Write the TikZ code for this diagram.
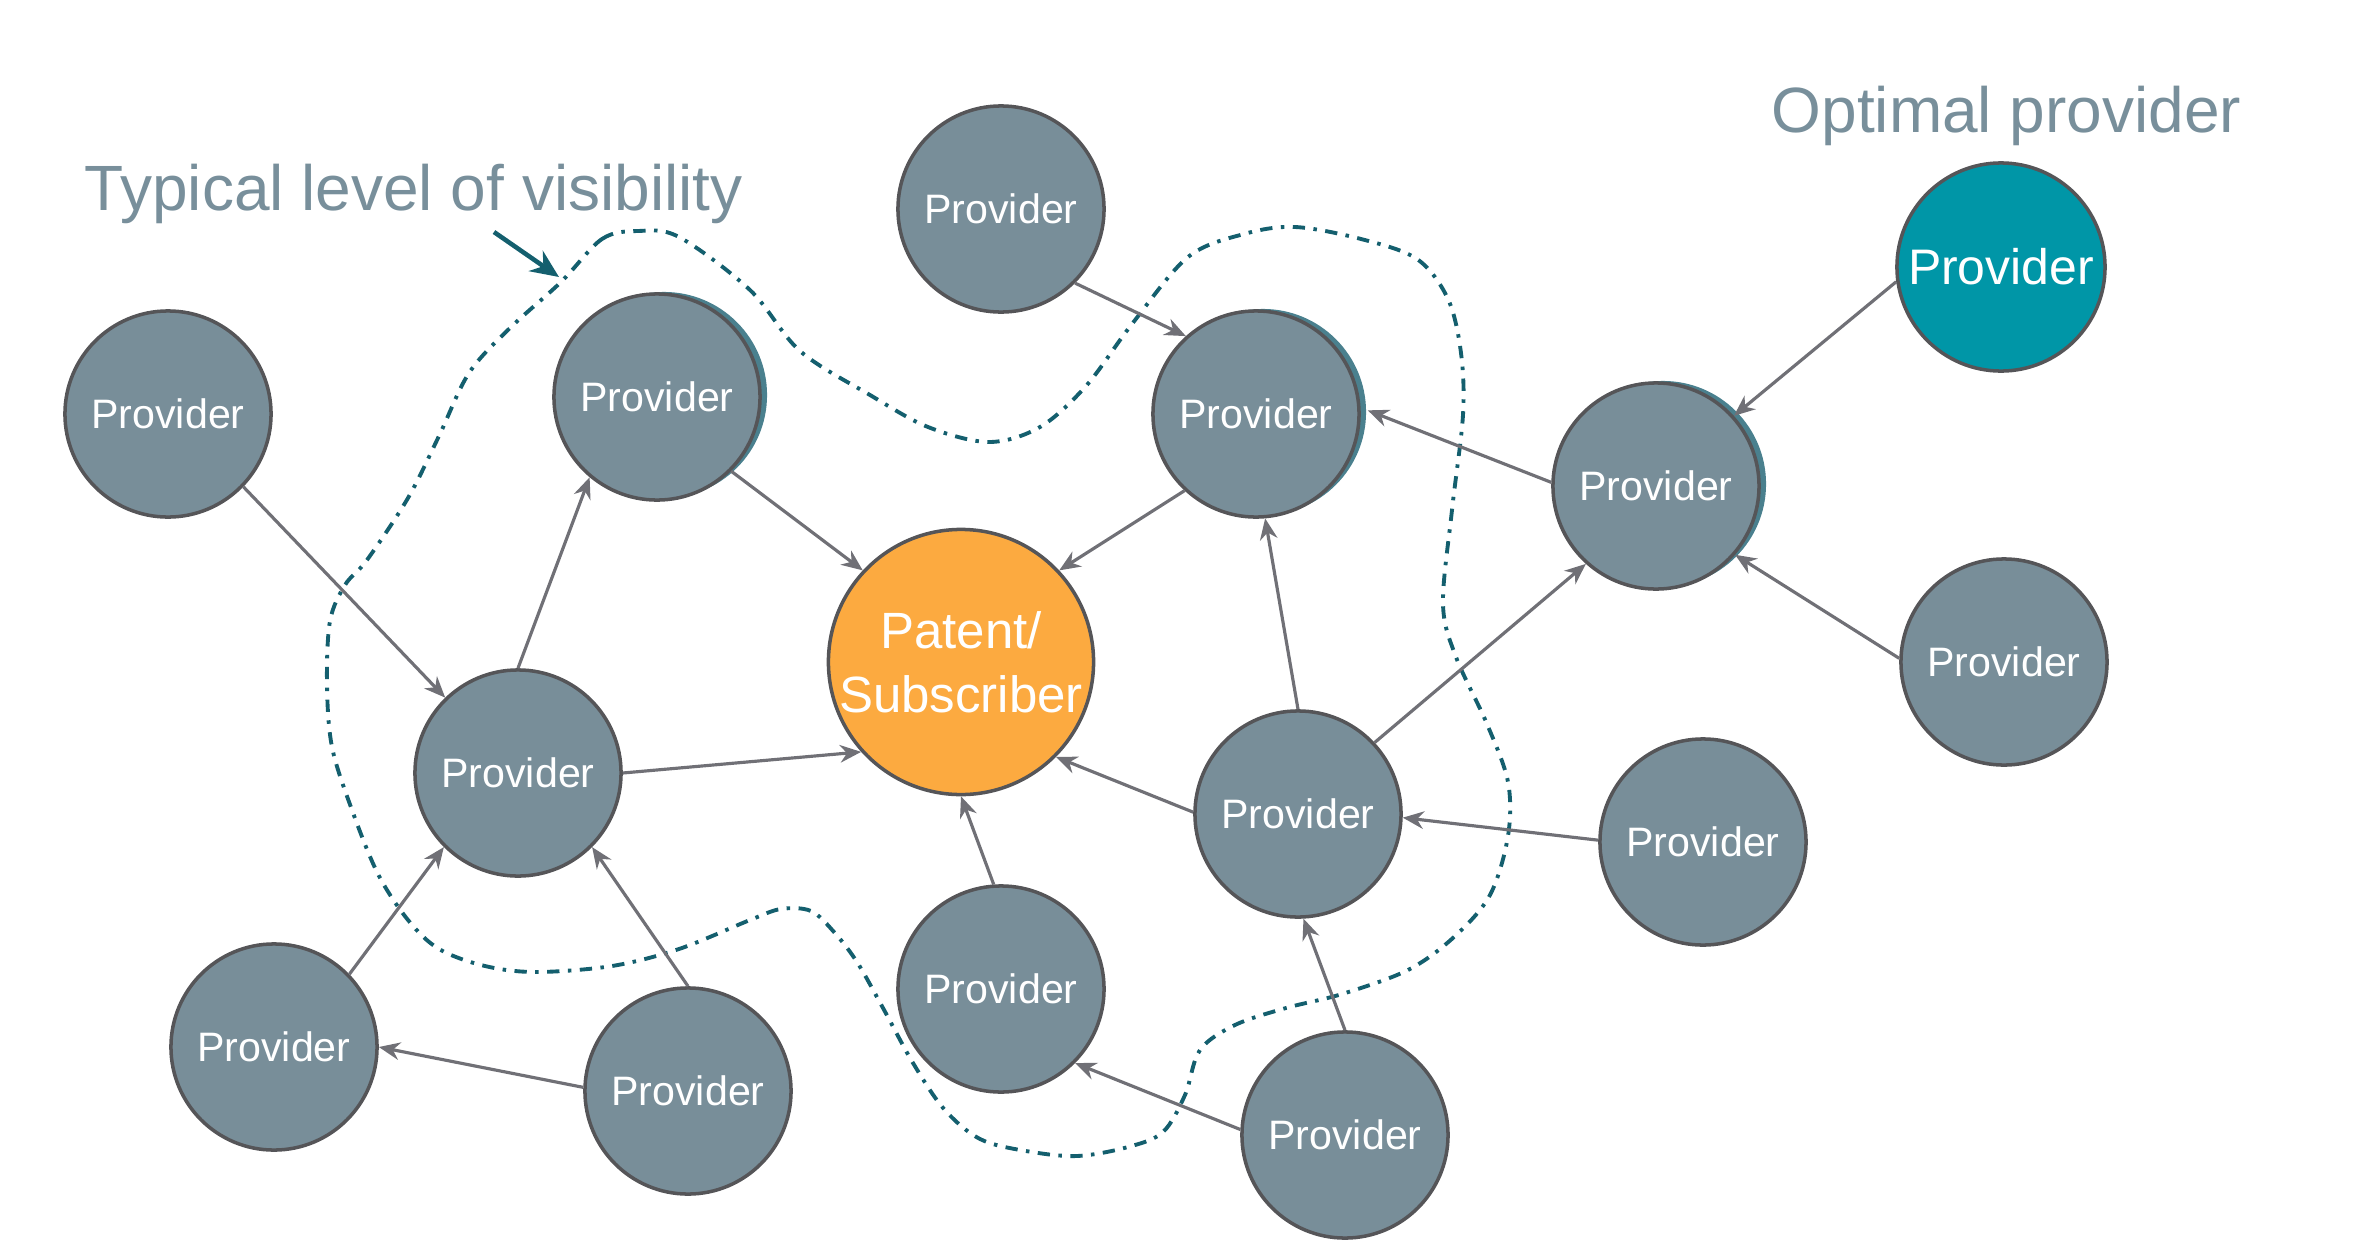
\documentclass[tikz,border=0pt]{standalone}
\usepackage{fontspec}
\setmainfont{Liberation Sans}
\usetikzlibrary{arrows.meta,shadows}

\definecolor{provgray}{RGB}{120,142,153}
\definecolor{rimgray}{RGB}{85,85,88}
\definecolor{optteal}{RGB}{0,150,167}
\definecolor{patorange}{RGB}{252,170,64}
\definecolor{linkgray}{RGB}{112,112,118}
\definecolor{zoneteal}{RGB}{20,95,110}
\definecolor{labelgray}{RGB}{120,143,155}
\definecolor{shadowteal}{RGB}{74,128,142}

\begin{document}
\begin{tikzpicture}[x=0.01cm, y=-0.01cm,
	provider/.style={circle, fill=provgray, draw=rimgray, line width=1pt, minimum size=2.06cm, inner sep=0pt, text=white, font=\fontsize{11.7}{14}\selectfont},
	shadowed/.style={drop shadow={shadow xshift=0.07cm, shadow yshift=0.02cm, fill=shadowteal, opacity=1}},
	optimal/.style={provider, fill=optteal, minimum size=2.08cm, font=\fontsize{14.2}{17}\selectfont},
	patent/.style={provider, fill=patorange, minimum size=2.65cm, align=center, font=\fontsize{14.5}{18.2}\selectfont},
	caption/.style={inner sep=0pt, text=labelgray, font=\fontsize{18.2}{22}\selectfont},
	link/.style={draw=linkgray, line width=0.9pt, -{Stealth[length=6pt, width=5pt]}},
	zone/.style={draw=zoneteal, line width=1.1pt, dash pattern=on 3.5pt off 2.4pt on 1pt off 2.4pt}]
	\useasboundingbox (0,0) rectangle (2374,1260);
	
	\node[caption, anchor=base west] (text1) at (84,210){Typical level of visibility};
	\node[caption, anchor=base west] (text2) at (1771,132){Optimal provider};
	
	% visibility boundary
	\draw[zone] plot[smooth cycle, tension=0.55] coordinates {
		(561,282) (602,239) (638,231) (679,237) (750,290) (800,351) (870,395) (928,427)
		(989,442) (1040,427) (1086,386) (1132,324) (1188,257) (1244,234) (1295,227) (1361,239)
		(1417,259) (1448,299) (1461,353) (1463,415) (1452,510) (1443,604) (1456,657) (1487,724)
		(1508,782) (1508,836) (1490,895) (1454,937) (1408,970) (1342,994) (1286,1008) (1235,1025)
		(1200,1050) (1185,1095) (1163,1132) (1128,1147) (1077,1156) (1026,1151) (980,1139) (944,1109)
		(913,1063) (883,1008) (857,962) (834,932) (811,911) (781,909) (750,920) (679,949)
		(612,966) (536,972) (485,966) (439,949) (408,920) (378,874) (352,810) (332,747)
		(327,684) (330,621) (345,585) (367,560) (408,498) (439,436) (469,373) (510,328)};
	\coordinate (tail) at (494,232);
	\coordinate (tip) at (559,277);
	\draw[draw=zoneteal, line width=1.3pt, -{Stealth[length=8pt, width=7pt]}] (tail) -- (tip);
	
	\node[provider] (a) at (168,414){Provider};
	\node[provider, shadowed] (b) at (657,397){Provider};
	\node[provider] (c) at (1001,209){Provider};
	\node[provider, shadowed] (d) at (1256,414){Provider};
	\node[optimal] (e) at (2001,267){Provider};
	\node[provider, shadowed] (f) at (1656,486){Provider};
	\node[provider] (g) at (2004,662){Provider};
	\node[patent] (p) at (961,662){Patent/\\Subscriber};
	\node[provider] (h) at (518,773){Provider};
	\node[provider] (i) at (1298,814){Provider};
	\node[provider] (j) at (1703,842){Provider};
	\node[provider] (k) at (1001,989){Provider};
	\node[provider] (l) at (274,1047){Provider};
	\node[provider] (m) at (688,1091){Provider};
	\node[provider] (n) at (1345,1135){Provider};
	
	\draw[link] (a.-44) -- (h.134);
	\draw[link] (h.90) -- (b.230);
	\draw[link] (b.-45) -- (p.137);
	\draw[link] (c.-45) -- (d.132);
	\draw[link] (d.227) -- (p.43);
	\draw[link] (f.178) -- ([xshift=0.07cm]d.2);
	\draw[link] (e.188) -- (f.42);
	\draw[link] (g.178) -- (f.-41);
	\draw[link] (i.43) -- (f.228);
	\draw[link] (i.90) -- (d.-85);
	\draw[link] (i.179) -- (p.-45);
	\draw[link] (h.0) -- (p.222);
	\draw[link] (k.94) -- (p.-90);
	\draw[link] (j.179) -- (i.-2);
	\draw[link] (n.90) -- (i.-87);
	\draw[link] (n.177) -- (k.-45);
	\draw[link] (l.44) -- (h.225);
	\draw[link] (m.90) -- (h.-45);
	\draw[link] (m.178) -- (l.0);
\end{tikzpicture}
\end{document}
